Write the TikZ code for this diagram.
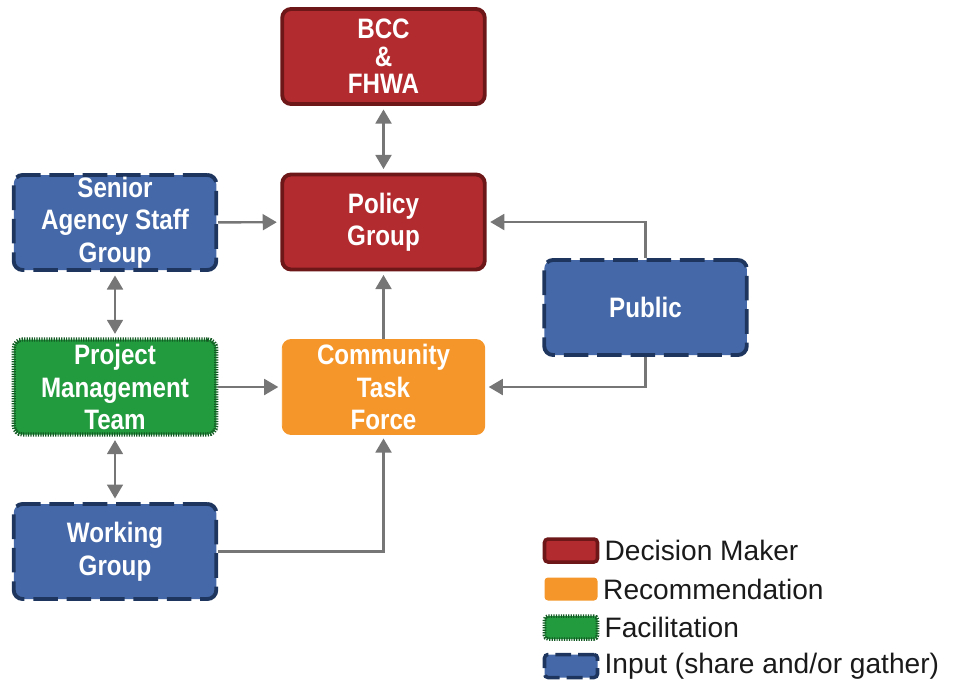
\documentclass[tikz,border=0pt]{standalone}
\usepackage{fontspec}
\setmainfont{Liberation Sans}
\newfontfamily\boxfont[FakeStretch=0.86]{Liberation Sans}
\usepackage{tikz}
\usetikzlibrary{arrows.meta}
\definecolor{decred}{HTML}{B22B2F}
\definecolor{decedge}{HTML}{6E1719}
\definecolor{recorange}{HTML}{F5962A}
\definecolor{facgreen}{HTML}{229A3E}
\definecolor{facedge}{HTML}{145A24}
\definecolor{inblue}{HTML}{4468A8}
\definecolor{inedge}{HTML}{1E365E}
\definecolor{arrowgray}{HTML}{767676}
\definecolor{keyink}{HTML}{1A1A1A}
\tikzset{
  box/.style={rounded corners=5pt, minimum width=4.05cm, minimum height=1.9cm, inner sep=0pt, align=center, text=white, font=\boxfont\bfseries\fontsize{16}{18.5}\selectfont},
  decision/.style={box, fill=decred, draw=decedge, line width=2.2pt},
  recommend/.style={box, fill=recorange, draw=recorange, line width=0.5pt},
  facil/.style={box, fill=facgreen, draw=facedge, line width=2.4pt, dash pattern=on 0.7pt off 0.7pt},
  inputbox/.style={box, fill=inblue, draw=inedge, line width=2.2pt, dash pattern=on 14pt off 5pt},
  link/.style={draw=arrowgray, line width=1.4pt, -{Triangle[length=8pt,width=9pt]}, shorten >=2pt},
  twoway/.style={link, {Triangle[length=8pt,width=9pt]}-{Triangle[length=8pt,width=9pt]}, shorten <=2pt},
  key/.style={minimum width=1.06cm, minimum height=0.46cm, inner sep=0pt, rounded corners=2pt},
  keytext/.style={anchor=west, text=keyink, font=\fontsize{16}{18}\selectfont, inner sep=0pt},
}
\begin{document}
\begin{tikzpicture}
  \useasboundingbox (0,0) rectangle (19.16,-13.62);

  % decision makers
  \node[decision, font=\boxfont\bfseries\fontsize{16}{15.6}\selectfont] (bcc) at (7.67,-1.13) {BCC\\\&\\FHWA};
  \node[decision] (policy) at (7.67,-4.44) {Policy\\Group};

  % input groups
  \node[inputbox] (senior) at (2.30,-4.45) {Senior\\Agency Staff\\Group};
  \node[inputbox] (public) at (12.91,-6.15) {Public};
  \node[inputbox] (working) at (2.30,-11.03) {Working\\Group};

  % facilitation and recommendation
  \node[facil] (pmt) at (2.30,-7.74) {Project\\Management\\Team};
  \node[recommend] (ctf) at (7.67,-7.74) {Community\\Task\\Force};

  % connectors
  \draw[twoway] (bcc) -- (policy);
  \draw[link] (senior) -- (policy);
  \draw[twoway] (senior) -- (pmt);
  \draw[twoway] (pmt) -- (working);
  \draw[link] (pmt) -- (ctf);
  \draw[link] (ctf) -- (policy);
  \draw[link] (public.north) |- (policy.east);
  \draw[link] (public.south) |- (ctf.east);
  \draw[link] (working.east) -| (ctf.south);

  % legend
  \node[key, fill=decred, draw=decedge, line width=2pt] (keydec) at (11.42,-11.01) {};
  \node[key, fill=recorange] (keyrec) at (11.42,-11.78) {};
  \node[key, fill=facgreen, draw=facedge, line width=2pt, dash pattern=on 0.7pt off 0.7pt] (keyfac) at (11.42,-12.55) {};
  \node[key, fill=inblue, draw=inedge, line width=2pt, dash pattern=on 9pt off 4pt] (keyin) at (11.42,-13.32) {};
  \node[keytext] (txtdec) at ([xshift=0.1cm]keydec.east) {Decision Maker};
  \node[keytext] (txtrec) at ([xshift=0.1cm]keyrec.east) {Recommendation};
  \node[keytext] (txtfac) at ([xshift=0.1cm]keyfac.east) {Facilitation};
  \node[keytext] (txtin) at ([xshift=0.1cm]keyin.east) {Input (share and/or gather)};
\end{tikzpicture}
\end{document}
